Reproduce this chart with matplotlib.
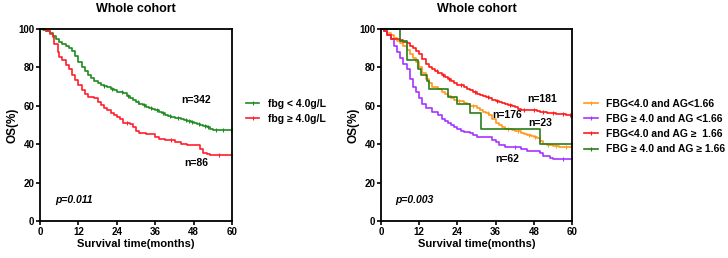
import numpy as np
import matplotlib
matplotlib.use('Agg')
import matplotlib.pyplot as plt
from matplotlib.lines import Line2D

plt.rcParams['font.family'] = ['Liberation Sans', 'DejaVu Sans']
plt.rcParams['font.weight'] = 'bold'

# Left panel: fbg groups (time in months, OS in %)
fbg_lo_t = [0, 1, 2, 3, 4, 5, 6, 7, 8, 9, 10, 11, 12, 13, 14, 15, 16, 17, 18, 19, 20, 21, 22, 23, 24,
            26, 27, 28, 29, 30, 31, 32, 33, 34, 35, 36, 37, 38, 39, 40, 41, 42, 44, 45, 46, 47, 48,
            49, 50, 51, 52, 53, 54, 60]
fbg_lo_s = [100, 99.5, 99, 98, 96.5, 95, 93, 92, 91, 90, 88.5, 86, 83, 80, 78, 76, 74.5, 73, 72, 71,
            70.5, 70, 69, 68, 67, 66.5, 65, 64, 63, 62, 61, 60.5, 59.5, 59, 58.5, 58, 57, 56, 55, 54.5,
            54, 53.5, 53, 52.5, 52, 51.5, 51, 50.5, 50, 49.5, 49, 48, 47.2, 47.2]
fbg_lo_cens = [20, 22.5, 25.5, 27.5, 30.5, 32.5, 34.5, 36.5, 38.5, 40.5, 43, 45.5, 46.5, 47.5, 49.5,
               51.5, 52.5, 55, 57, 59.5]

fbg_hi_t = [0, 2, 3, 4, 4.5, 5.5, 6, 7, 8, 9, 10, 11, 12, 13, 14, 15, 17, 18, 19, 20, 21, 22, 23, 24,
            25, 26, 28, 29, 30, 31, 33, 36, 37, 39, 42, 44, 46, 50, 51, 52, 53, 60]
fbg_hi_s = [100, 99, 97.5, 96, 92, 88, 85.5, 84, 81, 79, 76, 73.5, 71, 68, 66, 64.5, 64, 62, 60.5, 59,
            58, 56.5, 55, 54, 53, 51, 50.5, 49, 47, 46, 45.5, 44, 42.5, 42, 41, 40, 39.5, 37.5, 35.5,
            35, 34.5, 34.5]
fbg_hi_cens = [27, 41, 56]

# Right panel: FBG x AG groups
g1_t = [0, 1, 2, 3, 4, 5, 6, 7, 8, 9, 10, 11, 12, 13, 14, 15, 16, 18, 19, 20, 21, 22, 23, 24, 26, 27,
        28, 30, 31, 32, 33, 34, 35, 36, 37, 38, 39, 41, 42, 44, 45, 46, 47, 48, 49, 50, 51, 52, 54,
        56, 60]
g1_s = [100, 99, 98, 97, 95.5, 94, 92.5, 91, 89, 87, 85, 83, 80, 77, 74, 72, 70, 69, 67, 66, 65, 64, 63,
        62.5, 61.5, 61, 60, 59, 58, 57, 56, 55, 53, 51, 50, 49, 48, 47.5, 47, 46, 45.5, 45, 44.5, 44,
        43, 41.5, 40, 39.5, 39, 38.5, 38.5]
g1_cens = [24.5, 29, 33.5, 40, 43, 46.5, 48.5, 52.5, 55, 58]

g2_t = [0, 1, 2, 3, 4, 5, 6, 7, 8, 9, 10, 11, 12, 13, 14, 16, 18, 19, 20, 21, 22, 23, 24, 25, 26, 28,
        29, 30, 32, 35, 36, 37, 39, 44, 46, 50, 51, 53, 54, 60]
g2_s = [100, 99, 97, 95, 91, 88, 85, 82, 79, 74, 70, 67, 64, 61, 59, 57, 55, 53, 52, 51, 50, 49, 48, 47,
        46.5, 46, 45, 44, 43.5, 42, 41, 39.5, 38.5, 37.5, 36.5, 35.5, 34, 33, 32.5, 32.5]
g2_cens = [42, 57]

g3_t = [0, 1, 2, 3, 6, 7, 8, 9, 10, 11, 12, 13, 14, 15, 16, 17, 18, 19, 20, 21, 22, 23, 24, 26, 27, 28,
        29, 30, 31, 32, 33, 34, 35, 36, 37, 38, 39, 40, 41, 42, 43, 44, 47, 49, 50, 52, 53, 55, 58, 60]
g3_s = [100, 99, 97, 95, 94.5, 93, 92.5, 91, 90, 88.5, 87, 84.5, 82, 80, 79, 78, 77, 76, 75, 74, 73, 72,
        71, 70, 69, 68, 67, 66, 65.5, 65, 64.5, 64, 63, 62.5, 62, 61.5, 61, 60.5, 60, 59.5, 58.5, 58,
        57.8, 57.5, 57, 56.5, 56, 55.5, 55, 54.5]
g3_cens = [17.5, 19.5, 21.5, 25, 29.5, 33.5, 36.5, 40.5, 45, 48, 51, 54, 57, 59.5]

g4_t = [0, 6, 8, 11.5, 12.5, 14.5, 15, 21, 24, 28, 31.5, 50, 60]
g4_s = [100, 93.5, 84, 79, 76, 73, 68.5, 64.5, 61, 56.5, 48, 40, 40]
g4_cens = []

left_series = [
    (fbg_lo_t, fbg_lo_s, fbg_lo_cens, '#1f8c1f', 'fbg < 4.0g/L'),
    (fbg_hi_t, fbg_hi_s, fbg_hi_cens, '#ff1f2e', 'fbg \u2265 4.0g/L'),
]
right_series = [
    (g1_t, g1_s, g1_cens, '#ff9a1a', 'FBG<4.0 and AG<1.66'),
    (g2_t, g2_s, g2_cens, '#a633ff', 'FBG \u2265 4.0 and AG <1.66'),
    (g3_t, g3_s, g3_cens, '#ff1a1a', 'FBG<4.0 and AG \u2265  1.66'),
    (g4_t, g4_s, g4_cens, '#2a7d1a', 'FBG \u2265 4.0 and AG \u2265 1.66'),
]
left_notes = [(48.7, 63, 'n=342'), (48.7, 30, 'n=86')]
right_notes = [(50.5, 63.5, 'n=181'), (39.5, 55, 'n=176'), (50, 51, 'n=23'), (39.5, 32.5, 'n=62')]


def km(ax, t, s, cens, color, label):
    ax.plot(t, s, drawstyle='steps-post', color=color, lw=1.2, label=label, clip_on=False)
    if cens:
        cs = [s[np.searchsorted(t, c, side='right') - 1] for c in cens]
        ax.plot(cens, cs, ls='none', marker='|', ms=3, mew=0.8, color=color, clip_on=False)


def style(ax, notes, pval):
    ax.set_xlim(0, 60)
    ax.set_ylim(0, 100)
    ax.set_xticks(range(0, 61, 12))
    ax.set_yticks(range(0, 101, 20))
    for sp in ax.spines.values():
        sp.set_linewidth(1.3)
    ax.tick_params(direction='out', length=3, width=1.2, labelsize=7, pad=1)
    for lb in ax.get_xticklabels() + ax.get_yticklabels():
        lb.set_fontweight('bold')
    ax.set_xlabel('Survival time(months)', fontsize=8, fontweight='bold', labelpad=2)
    ax.set_ylabel('OS(%)', fontsize=8.5, fontweight='bold', labelpad=0)
    ax.set_title('Whole cohort', fontsize=9, fontweight='bold', pad=12)
    for x, y, txt in notes:
        ax.text(x, y, txt, fontsize=7.5, fontweight='bold', ha='center', va='center')
    ax.text(10.5, 11, pval, fontsize=7.5, fontweight='bold', style='italic', ha='center', va='center')


fig = plt.figure(figsize=(7.28, 2.58), dpi=100)
axL = fig.add_axes([0.055, 0.1434, 0.264, 0.7442])
axR = fig.add_axes([0.5234, 0.1434, 0.2624, 0.7442])

for t, s, c, col, lab in left_series:
    km(axL, t, s, c, col, lab)
for t, s, c, col, lab in right_series:
    km(axR, t, s, c, col, lab)

style(axL, left_notes, 'p=0.011')
style(axR, right_notes, 'p=0.003')

for ax, series, anchor in [(axL, left_series, (0.3376, 0.618)), (axR, right_series, (0.8026, 0.618))]:
    handles = [Line2D([], [], color=col, lw=1.2, marker='|', ms=3, mew=0.8) for _, _, _, col, _ in series]
    labels = [lab for *_, lab in series]
    leg = fig.legend(handles, labels, loc='upper left', bbox_to_anchor=anchor, frameon=False,
                     fontsize=7.5, handlelength=1.3, handletextpad=0.8, labelspacing=0.5,
                     borderaxespad=0, borderpad=0)
    for tx in leg.get_texts():
        tx.set_fontweight('bold')

fig.savefig('out.png', dpi=100)
